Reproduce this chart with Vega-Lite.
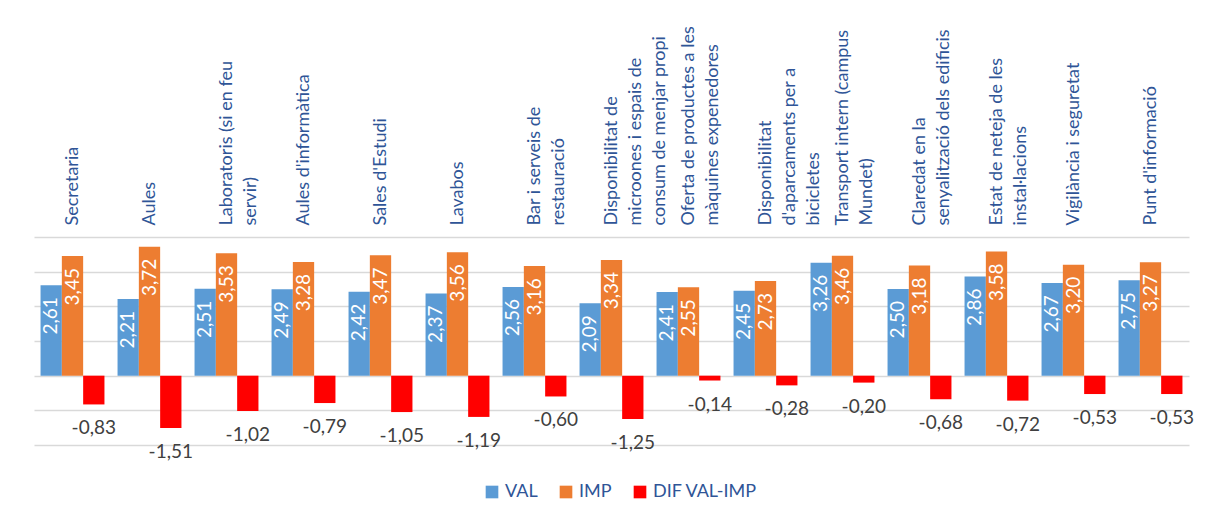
{
  "$schema": "https://vega.github.io/schema/vega-lite/v6.json",
  "autosize": {"type": "none"},
  "width": 1155,
  "height": 208,
  "padding": {"left": 34, "top": 237, "right": 16, "bottom": 75},
  "background": "white",
  "data": {
    "values": [
      {"aspecte": "Secretaria", "serie": "VAL", "valor": 2.61},
      {"aspecte": "Secretaria", "serie": "IMP", "valor": 3.45},
      {"aspecte": "Secretaria", "serie": "DIF VAL-IMP", "valor": -0.83},
      {"aspecte": "Aules", "serie": "VAL", "valor": 2.21},
      {"aspecte": "Aules", "serie": "IMP", "valor": 3.72},
      {"aspecte": "Aules", "serie": "DIF VAL-IMP", "valor": -1.51},
      {"aspecte": "Laboratoris (si en feu|servir)", "serie": "VAL", "valor": 2.51},
      {"aspecte": "Laboratoris (si en feu|servir)", "serie": "IMP", "valor": 3.53},
      {"aspecte": "Laboratoris (si en feu|servir)", "serie": "DIF VAL-IMP", "valor": -1.02},
      {"aspecte": "Aules d'informàtica", "serie": "VAL", "valor": 2.49},
      {"aspecte": "Aules d'informàtica", "serie": "IMP", "valor": 3.28},
      {"aspecte": "Aules d'informàtica", "serie": "DIF VAL-IMP", "valor": -0.79},
      {"aspecte": "Sales d'Estudi", "serie": "VAL", "valor": 2.42},
      {"aspecte": "Sales d'Estudi", "serie": "IMP", "valor": 3.47},
      {"aspecte": "Sales d'Estudi", "serie": "DIF VAL-IMP", "valor": -1.05},
      {"aspecte": "Lavabos", "serie": "VAL", "valor": 2.37},
      {"aspecte": "Lavabos", "serie": "IMP", "valor": 3.56},
      {"aspecte": "Lavabos", "serie": "DIF VAL-IMP", "valor": -1.19},
      {"aspecte": "Bar i serveis de|restauració", "serie": "VAL", "valor": 2.56},
      {"aspecte": "Bar i serveis de|restauració", "serie": "IMP", "valor": 3.16},
      {"aspecte": "Bar i serveis de|restauració", "serie": "DIF VAL-IMP", "valor": -0.60},
      {"aspecte": "Disponibilitat de|microones i espais de|consum de menjar propi", "serie": "VAL", "valor": 2.09},
      {"aspecte": "Disponibilitat de|microones i espais de|consum de menjar propi", "serie": "IMP", "valor": 3.34},
      {"aspecte": "Disponibilitat de|microones i espais de|consum de menjar propi", "serie": "DIF VAL-IMP", "valor": -1.25},
      {"aspecte": "Oferta de productes a les|màquines expenedores", "serie": "VAL", "valor": 2.41},
      {"aspecte": "Oferta de productes a les|màquines expenedores", "serie": "IMP", "valor": 2.55},
      {"aspecte": "Oferta de productes a les|màquines expenedores", "serie": "DIF VAL-IMP", "valor": -0.14},
      {"aspecte": "Disponibilitat|d'aparcaments per a|bicicletes", "serie": "VAL", "valor": 2.45},
      {"aspecte": "Disponibilitat|d'aparcaments per a|bicicletes", "serie": "IMP", "valor": 2.73},
      {"aspecte": "Disponibilitat|d'aparcaments per a|bicicletes", "serie": "DIF VAL-IMP", "valor": -0.28},
      {"aspecte": "Transport intern (campus|Mundet)", "serie": "VAL", "valor": 3.26},
      {"aspecte": "Transport intern (campus|Mundet)", "serie": "IMP", "valor": 3.46},
      {"aspecte": "Transport intern (campus|Mundet)", "serie": "DIF VAL-IMP", "valor": -0.20},
      {"aspecte": "Claredat en la|senyalització dels edificis", "serie": "VAL", "valor": 2.50},
      {"aspecte": "Claredat en la|senyalització dels edificis", "serie": "IMP", "valor": 3.18},
      {"aspecte": "Claredat en la|senyalització dels edificis", "serie": "DIF VAL-IMP", "valor": -0.68},
      {"aspecte": "Estat de neteja de les|instal·lacions", "serie": "VAL", "valor": 2.86},
      {"aspecte": "Estat de neteja de les|instal·lacions", "serie": "IMP", "valor": 3.58},
      {"aspecte": "Estat de neteja de les|instal·lacions", "serie": "DIF VAL-IMP", "valor": -0.72},
      {"aspecte": "Vigilància i seguretat", "serie": "VAL", "valor": 2.67},
      {"aspecte": "Vigilància i seguretat", "serie": "IMP", "valor": 3.20},
      {"aspecte": "Vigilància i seguretat", "serie": "DIF VAL-IMP", "valor": -0.53},
      {"aspecte": "Punt d'informació", "serie": "VAL", "valor": 2.75},
      {"aspecte": "Punt d'informació", "serie": "IMP", "valor": 3.27},
      {"aspecte": "Punt d'informació", "serie": "DIF VAL-IMP", "valor": -0.53}
    ]
  },
  "encoding": {
    "x": {
      "field": "aspecte",
      "type": "nominal",
      "sort": null,
      "scale": {"paddingInner": 0.17, "paddingOuter": 0.085},
      "axis": {
        "orient": "top",
        "title": null,
        "ticks": false,
        "domain": false,
        "labelAngle": -90,
        "labelAlign": "left",
        "labelBaseline": "middle",
        "labelPadding": 12,
        "labelFontSize": 18,
        "labelLineHeight": 24,
        "labelColor": "#2F5597",
        "labelLimit": 400,
        "labelOverlap": false,
        "labelExpr": "split(datum.label, '|')"
      }
    },
    "xOffset": {
      "field": "serie",
      "type": "nominal",
      "scale": {"domain": ["VAL", "IMP", "DIF VAL-IMP"], "paddingInner": 0, "paddingOuter": 0}
    },
    "y": {
      "field": "valor",
      "type": "quantitative",
      "scale": {"domain": [-2, 4], "nice": false},
      "axis": {
        "title": null,
        "labels": false,
        "ticks": false,
        "domain": false,
        "grid": true,
        "gridColor": "#D9D9D9",
        "gridWidth": 1.3,
        "values": [-2, -1, 0, 1, 2, 3, 4]
      }
    }
  },
  "layer": [
    {
      "mark": {"type": "bar"},
      "encoding": {
        "color": {
          "field": "serie",
          "type": "nominal",
          "scale": {"domain": ["VAL", "IMP", "DIF VAL-IMP"], "range": ["#5B9BD5", "#ED7D31", "#FF0000"]},
          "legend": {
            "orient": "none",
            "legendX": 449,
            "legendY": 246,
            "padding": 0,
            "direction": "horizontal",
            "title": null,
            "symbolType": "square",
            "symbolSize": 160,
            "symbolStrokeWidth": 0,
            "labelFontSize": 18,
            "labelColor": "#2F5597",
            "labelOffset": 4,
            "columnPadding": 19
          }
        }
      }
    },
    {
      "transform": [{"filter": "datum.serie !== 'DIF VAL-IMP'"}],
      "mark": {"type": "text", "angle": 270, "align": "right", "baseline": "middle", "dx": -12, "color": "white", "fontSize": 19},
      "encoding": {"text": {"field": "valor", "type": "quantitative", "format": ".2f"}}
    },
    {
      "transform": [{"filter": "datum.serie === 'DIF VAL-IMP'"}],
      "mark": {"type": "text", "align": "center", "baseline": "top", "dy": 15, "color": "#404040", "fontSize": 19},
      "encoding": {"text": {"field": "valor", "type": "quantitative", "format": ".2f"}}
    }
  ],
  "config": {
    "font": "Lato",
    "view": {"stroke": null},
    "locale": {
      "number": {"decimal": ",", "thousands": ".", "grouping": [3], "currency": ["", " €"], "minus": "-"}
    }
  }
}
